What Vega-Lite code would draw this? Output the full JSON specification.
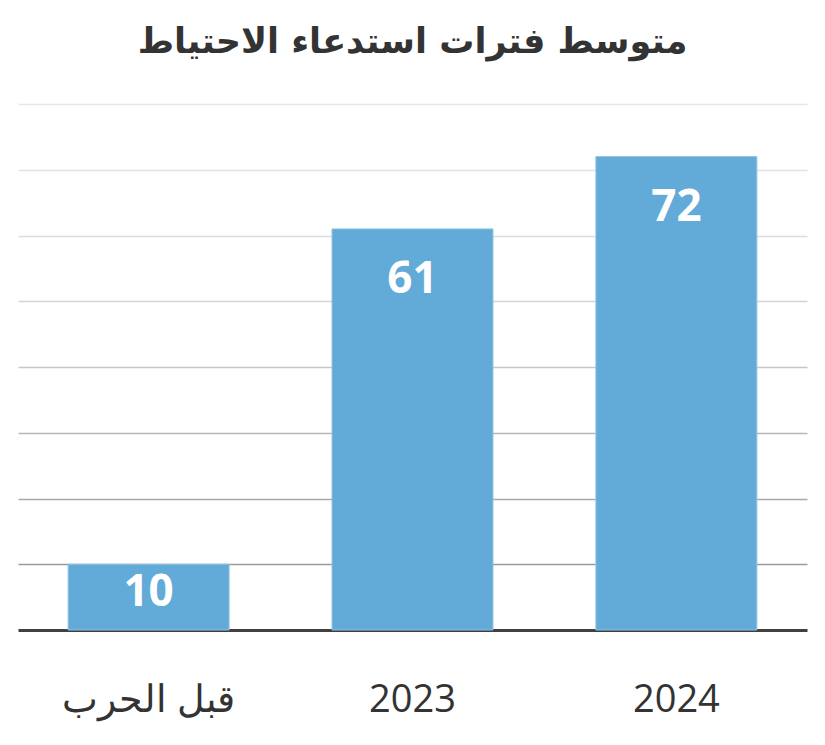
{
  "$schema": "https://vega.github.io/schema/vega-lite/v6.json",
  "autosize": "none",
  "width": 789,
  "height": 526,
  "padding": {"left": 18, "top": 104, "right": 18, "bottom": 115},
  "background": "white",
  "title": {
    "text": "متوسط فترات استدعاء الاحتياط",
    "font": "DejaVu Sans",
    "fontSize": 35,
    "fontWeight": "bold",
    "color": "#333333",
    "anchor": "middle",
    "offset": 44
  },
  "data": {
    "values": [
      {"period": "قبل الحرب", "value": 10},
      {"period": "2023", "value": 61},
      {"period": "2024", "value": 72}
    ]
  },
  "encoding": {
    "x": {
      "field": "period",
      "type": "nominal",
      "sort": null,
      "scale": {"paddingInner": 0.39, "paddingOuter": 0.19},
      "axis": {
        "title": null,
        "labelAngle": 0,
        "labelFont": "Open Sans",
        "labelFontSize": 38,
        "labelColor": "#333333",
        "labelPadding": 51,
        "ticks": false,
        "domainColor": "#404040",
        "domainWidth": 3,
        "grid": false
      }
    },
    "y": {
      "field": "value",
      "type": "quantitative",
      "scale": {"domain": [0, 80], "nice": false},
      "axis": {
        "title": null,
        "labels": false,
        "ticks": false,
        "domain": false,
        "values": [10, 20, 30, 40, 50, 60, 70, 80],
        "gridWidth": 1.5,
        "gridColor": {
          "condition": [
            {"test": "datum.value <= 10", "value": "#9a9a9a"},
            {"test": "datum.value <= 20", "value": "#a9a9a9"},
            {"test": "datum.value <= 30", "value": "#b7b7b7"},
            {"test": "datum.value <= 40", "value": "#c6c6c6"},
            {"test": "datum.value <= 50", "value": "#d3d3d3"},
            {"test": "datum.value <= 60", "value": "#dcdcdc"},
            {"test": "datum.value <= 70", "value": "#e2e2e2"}
          ],
          "value": "#e6e6e6"
        }
      }
    }
  },
  "layer": [
    {
      "mark": {"type": "bar", "color": "#62aad7", "stroke": "#8fc3e4", "strokeWidth": 1}
    },
    {
      "transform": [{"filter": "datum.value >= 20"}],
      "mark": {
        "type": "text",
        "color": "white",
        "font": "Open Sans",
        "fontSize": 44,
        "fontWeight": "bold",
        "baseline": "middle",
        "dy": 51
      },
      "encoding": {"text": {"field": "value", "type": "quantitative"}}
    },
    {
      "transform": [{"filter": "datum.value < 20"}],
      "mark": {
        "type": "text",
        "color": "white",
        "font": "Open Sans",
        "fontSize": 44,
        "fontWeight": "bold",
        "baseline": "middle",
        "dy": 29
      },
      "encoding": {"text": {"field": "value", "type": "quantitative"}}
    }
  ],
  "config": {"view": {"stroke": null}}
}
